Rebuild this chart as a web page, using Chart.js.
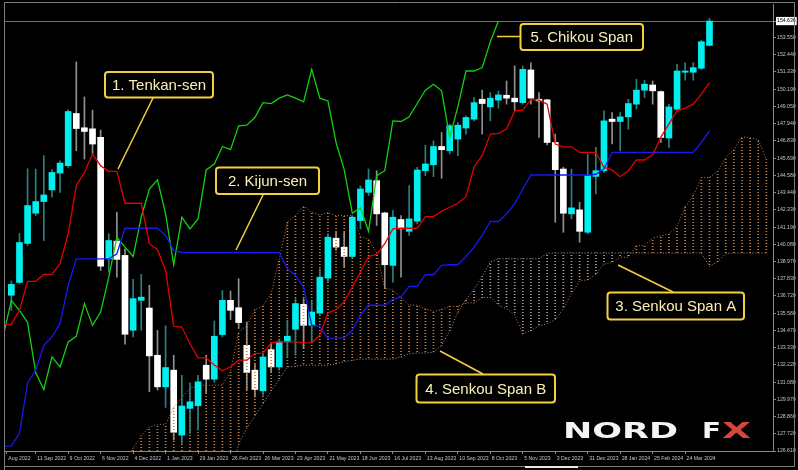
<!DOCTYPE html>
<html><head><meta charset="utf-8">
<script src="https://cdn.jsdelivr.net/npm/chart.js@4.4.1/dist/chart.umd.min.js"></script>
<style>html,body{margin:0;padding:0;background:#000;overflow:hidden}#wrap{width:798px;height:470px}</style>
</head><body><div id="wrap"><canvas id="c" width="798" height="470"></canvas></div>
<script>
// USDJPY weekly. Week index k: 0 = 14 Aug 2022, 1 = 21 Aug 2022, ...
const xTickWeeks = [0.45, 4, 8, 12, 16, 20, 24, 28, 32, 36, 40, 44, 48, 52, 56, 60, 64, 68, 72, 76, 80, 84];
const xTickLabels = ['Aug 2022','11 Sep 2022','9 Oct 2022','6 Nov 2022','4 Dec 2022','1 Jan 2023','29 Jan 2023','26 Feb 2023','26 Mar 2023','23 Apr 2023','21 May 2023','18 Jun 2023','16 Jul 2023','13 Aug 2023','10 Sep 2023','8 Oct 2023','5 Nov 2023','3 Dec 2023','31 Dec 2023','28 Jan 2024','25 Feb 2024','24 Mar 2024'];
const yTickValues = [154.636,153.550,152.440,151.330,150.190,149.050,147.940,146.830,145.690,144.580,143.440,142.330,141.190,140.080,138.970,137.830,136.720,135.580,134.470,133.330,132.220,131.080,129.970,128.860,127.720,126.610];

const firstCandleWeek = 1;
const opens = [136.76,137.6,140.14,142.11,142.87,143.63,144.73,145.21,148.61,147.68,
147.61,147.05,139.14,140.29,139.36,134.48,136.43,135.93,132.85,130.79,
131.88,127.65,129.39,129.56,132.2,131.29,134.2,136.43,135.95,133.5,
131.88,130.53,133.22,132.09,133.72,134.54,136.17,134.8,135.6,137.88,
140.48,139.9,139.29,141.63,143.47,144.23,142.13,138.71,141.7,140.93,
141.59,144.88,145.27,146.46,146.18,146.94,147.66,148.24,149.54,149.04,
149.48,149.8,149.61,149.32,151.45,149.54,149.5,146.72,144.99,142.07,
142.33,140.87,144.51,144.88,148.24,148.09,148.39,149.22,150.13,150.47,
150.04,147.01,148.89,151.3,151.3,151.56,153.05];
const highs = [137.69,140.79,145.01,144.99,145.86,144.95,145.53,148.85,151.97,149.69,
148.83,147.53,140.77,142.17,139.79,137.8,138.12,137.41,134.48,134.77,
132.85,131.55,131.05,131.55,132.85,135.08,137.08,137.04,137.84,135.02,
132.3,132.96,133.61,133.87,135.13,136.54,136.54,136.4,138.49,140.77,
140.92,140.87,141.96,143.9,144.99,144.88,142.17,142.28,141.95,143.91,
145.1,146.55,146.83,147.37,147.92,148.02,148.46,149.65,150.13,149.97,
150.08,150.73,151.71,151.71,151.92,149.97,149.54,147.27,145.1,144.99,
142.82,145.97,146.4,148.78,148.67,148.67,149.54,150.85,150.78,150.73,
150.08,149.22,151.82,151.92,151.92,153.38,154.81];
const lows = [135.78,137.5,140.0,141.96,140.33,143.15,143.47,145.1,146.18,145.64,
145.97,138.38,138.27,137.94,133.57,134.04,134.48,130.47,130.58,129.45,
127.33,127.11,127.76,127.98,130.36,131.08,134.04,135.18,134.59,130.58,
130.14,130.25,131.77,131.88,132.74,132.85,133.29,133.7,135.46,137.62,
139.68,138.6,139.2,141.09,143.26,141.31,137.19,137.62,137.94,140.66,
141.42,144.56,144.49,144.38,145.97,145.86,147.27,148.13,147.27,148.13,
148.96,149.22,148.78,149.22,149.22,147.05,146.57,141.52,140.87,141.74,
140.22,140.77,143.37,144.77,146.62,146.18,147.59,148.9,149.65,149.22,
146.72,146.4,148.78,150.78,150.78,151.49,153.01];
const closes = [137.47,140.2,142.61,142.87,143.3,144.77,145.38,148.74,147.63,147.44,
146.62,138.66,140.33,139.1,134.22,136.54,136.64,132.81,130.79,132.05,
127.83,129.54,129.82,131.12,131.29,134.09,136.43,135.78,134.98,131.73,
130.62,132.74,132.09,133.72,134.09,136.22,134.8,135.67,137.94,140.55,
139.9,139.29,141.85,143.69,144.28,142.07,138.75,141.85,141.09,141.74,
144.93,145.32,146.46,146.25,147.81,147.85,148.35,149.32,149.26,149.61,
149.82,149.61,149.37,151.49,149.61,149.43,146.72,144.95,142.11,142.46,
140.93,144.56,144.88,148.13,148.09,148.39,149.26,150.13,150.52,150.09,
147.05,149.04,151.38,151.38,151.6,153.29,154.636];

const firstLineWeek = 0;
const tenkan = [134.87,
134.87,135.78,137.67,137.67,138.12,138.12,138.82,140.77,143.91,144.77,
145.97,145.21,144.84,144.84,142.76,142.76,142.76,140.12,139.73,138.38,
134.74,134.69,133.62,132.68,132.68,132.21,131.84,132.1,132.53,132.53,
132.97,132.99,133.66,133.72,133.72,133.72,133.68,133.66,134.16,135.6,
135.83,136.32,137.3,138.27,139.29,139.42,140.12,141.09,141.13,141.13,
141.13,141.89,141.89,142.24,142.5,142.76,143.19,145.14,145.86,147.27,
147.31,147.6,148.78,148.83,149.55,149.48,149.22,146.62,146.44,146.44,
146.07,146.07,146.07,145.1,144.93,144.49,144.88,145.58,145.58,145.92,
147.05,147.92,148.78,148.96,149.22,149.87,150.62];
const kijun = [126.9,
126.94,127.76,131.05,131.88,133.5,134.04,134.91,137.4,139.14,139.14,
139.14,139.14,139.14,139.47,141.13,141.13,141.13,141.13,141.13,140.66,
139.68,139.55,139.55,139.55,139.55,139.55,139.55,139.55,139.55,139.55,
139.55,139.55,139.55,139.55,138.49,138.06,137.3,134.81,134.74,133.94,
133.99,133.99,134.48,135.46,136.11,136.11,136.11,136.5,136.65,137.34,
137.34,138.1,138.1,138.71,138.75,138.75,139.29,139.9,140.66,141.57,
141.57,142.07,142.72,143.69,144.6,144.6,144.6,144.6,144.6,144.6,
144.6,144.6,144.65,145.0,146.07,146.07,146.07,146.07,146.07,146.07,
146.07,146.07,146.07,146.07,146.07,146.72,147.48];
const chikou = [134.09,136.43,135.78,134.98,131.73,130.62,132.74,132.09,133.72,134.09,
136.22,134.8,135.67,137.94,140.55,139.9,139.29,141.85,143.69,144.28,
142.07,138.75,141.85,141.09,141.74,144.93,145.32,146.46,146.25,147.81,
147.85,148.35,149.32,149.26,149.61,149.82,149.61,149.37,151.49,149.61,
149.43,146.72,144.95,142.11,142.46,140.93,144.56,144.88,148.13,148.09,
148.39,149.26,150.13,150.52,150.09,147.05,149.04,151.38,151.38,151.6,
153.29,154.636];

const firstSpanWeek = 14;
const spanA = [125.3,126.1,126.8,127.59,128.17,128.35,128.35,
129.47,130.12,130.69,130.87,130.9,130.9,130.91,131.77,134.36,134.78,
135.81,136.08,136.87,139.09,141.53,141.96,142.56,142.18,141.99,142.16,
141.95,141.95,141.95,140.63,140.43,139.52,137.21,137.12,136.59,136.12,
136.12,135.88,135.70,135.83,136.04,136.04,136.26,136.27,136.61,136.64,
136.11,135.89,135.49,134.24,134.45,134.77,134.91,135.16,135.89,136.87,
137.7,137.77,138.12,138.8,138.89,139.24,139.24,140.0,140.0,140.48,
140.63,140.76,141.24,142.52,143.26,144.42,144.44,144.84,145.75,146.26,
147.08,147.04,146.91,145.61];
const spanB = [120.5,120.8,121.2,121.5,121.8,122.0,122.3,
122.6,122.9,123.1,123.3,123.6,123.8,124.05,124.9,127.07,128.11,
128.89,129.67,130.51,131.29,132.1,132.14,132.2,132.2,132.2,132.2,
132.3,132.43,132.53,132.6,132.6,132.6,132.6,132.6,132.75,132.95,
133.0,133.0,133.05,133.5,134.44,135.66,136.48,137.15,137.99,138.92,
139.14,139.14,139.14,139.14,139.14,139.14,139.5,139.52,139.52,139.52,
139.52,139.52,139.52,139.52,139.52,139.52,139.52,139.52,139.52,139.52,
139.52,139.52,139.52,139.52,139.52,139.52,138.64,138.95,139.47,139.52,
139.52,139.52,139.52,139.52];

const currentPrice = closes[closes.length - 1];

// ---- build library datasets from the arrays ----
const bullBody=[], bearBody=[], bullWick=[], bearWick=[];
closes.forEach((c,i)=>{
  const o=opens[i], x=firstCandleWeek+i;
  const wick={x, y:[lows[i],highs[i]]}, body={x, y:[o,c]};
  if(c>=o){bullBody.push(body);bullWick.push(wick);} else {bearBody.push(body);bearWick.push(wick);}
});
const hatchUp=[], hatchDn=[];
spanA.forEach((a,i)=>{
  const b=spanB[i], x=firstSpanWeek+i;
  if(a>=b) hatchUp.push({x,y:[b,a]}); else hatchDn.push({x,y:[a,b]});
});
const toPts=(arr,start)=>arr.map((v,i)=>({x:start+i,y:v}));

function dots(color){
  const c=document.createElement('canvas'); c.width=1; c.height=3;
  const g=c.getContext('2d'); g.fillStyle=color; g.fillRect(0,0,1,1);
  return g.createPattern(c,'repeat');
}

const barBase={type:'bar',grouped:false,borderWidth:0,minBarLength:1.2};
const lineBase={type:'line',pointRadius:0,tension:0,fill:false};

const decor={
  id:'decor',
  beforeDraw(chart){const c=chart.ctx;c.save();c.fillStyle='#000';c.fillRect(0,0,chart.width,chart.height);c.restore();},
  beforeDatasetsDraw(chart){
    const {ctx,chartArea:a,scales:{y}}=chart;
    const py=Math.round(y.getPixelForValue(currentPrice))+0.5;
    ctx.save();ctx.strokeStyle='#6b727c';ctx.lineWidth=1;
    ctx.beginPath();ctx.moveTo(a.left,py);ctx.lineTo(a.right,py);ctx.stroke();ctx.restore();
  },
  afterDraw(chart){
    const ctx=chart.ctx;
    ctx.save();
    // window frame
    ctx.strokeStyle='#7d7d7d';ctx.lineWidth=1;
    ctx.beginPath();
    ctx.moveTo(4.5,2.5);ctx.lineTo(794.5,2.5);
    ctx.moveTo(4.5,2.5);ctx.lineTo(4.5,470);
    ctx.moveTo(794.5,2.5);ctx.lineTo(794.5,467);
    ctx.moveTo(4.5,466.5);ctx.lineTo(794.5,466.5);
    ctx.stroke();
    ctx.fillStyle='#e8e8e8';ctx.fillRect(525,466,53,2);
    // annotation pointers
    ctx.strokeStyle='#f2d23c';ctx.lineWidth=1.5;
    const ptr=[[153,98,118,169],[263,195,236,250],[673,292,618,265],[483,374,440,351],[497,36.5,520,36.5]];
    ptr.forEach(p=>{ctx.beginPath();ctx.moveTo(p[0],p[1]);ctx.lineTo(p[2],p[3]);ctx.stroke();});
    // annotation boxes
    const boxes=[[105,72,213,97.5,'1. Tenkan-sen'],[216,167.5,319,194,'2. Kijun-sen'],[607.5,292.5,744,319.5,'3. Senkou Span A'],[416.5,374.5,555,402.5,'4. Senkou Span B'],[520.5,24,643,50,'5. Chikou Span']];
    boxes.forEach(b=>{
      const [x1,y1,x2,y2,t]=b;
      ctx.beginPath();ctx.roundRect(x1,y1,x2-x1,y2-y1,3);
      ctx.fillStyle='#000';ctx.fill();
      ctx.lineWidth=2;ctx.strokeStyle='#f2d23c';ctx.stroke();
      ctx.fillStyle='#fbefb6';ctx.font='15px "Liberation Sans", Arial, sans-serif';
      ctx.textAlign='center';ctx.textBaseline='middle';
      ctx.fillText(t,(x1+x2)/2,(y1+y2)/2+1);
    });
    // logo
    ctx.font='bold 22px "DejaVu Sans", sans-serif';
    ctx.textAlign='left';ctx.textBaseline='alphabetic';
    const fit=(txt,x,w,fill)=>{const m=ctx.measureText(txt).width;ctx.save();ctx.translate(x,438);ctx.scale(w/m,0.97);ctx.fillStyle=fill;ctx.fillText(txt,0,0);ctx.restore();};
    fit('NORD',563,115,'#f4f4f4');
    fit('F',702,19,'#f4f4f4');
    const gr=ctx.createLinearGradient(0,422,0,438);
    gr.addColorStop(0,'#d8453c');gr.addColorStop(0.5,'#d8453c');gr.addColorStop(0.5,'#6cbf7e');gr.addColorStop(1,'#6cbf7e');
    fit('X',722,29,gr);
    ctx.restore();
  }
};

new Chart(document.getElementById('c'),{
  type:'bar',
  data:{datasets:[
    {...lineBase,label:'Tenkan-sen',data:toPts(tenkan,firstLineWeek),borderColor:'#e40000',borderWidth:1.3,order:1},
    {...lineBase,label:'Kijun-sen',data:toPts(kijun,firstLineWeek),borderColor:'#1818f0',borderWidth:1.3,order:2},
    {...lineBase,label:'Chikou Span',data:toPts(chikou,firstLineWeek),borderColor:'#12d012',borderWidth:1.3,order:3},
    {...barBase,label:'bull',data:bullBody,backgroundColor:'#00f0f0',barThickness:6,order:5},
    {...barBase,label:'bullWick',data:bullWick,backgroundColor:'#2b8080',barThickness:1,order:6},
    {...lineBase,label:'Senkou Span A',data:toPts(spanA,firstSpanWeek),borderColor:'#c07c40',borderWidth:1,borderDash:[1,2],order:7},
    {...lineBase,label:'Senkou Span B',data:toPts(spanB,firstSpanWeek),borderColor:'#a89ca8',borderWidth:1,borderDash:[1,2],order:7},
    {...barBase,label:'cloudUp',data:hatchUp,backgroundColor:dots('#cc8040'),barThickness:1,minBarLength:0,order:8},
    {...barBase,label:'cloudDn',data:hatchDn,backgroundColor:dots('#b2a6b2'),barThickness:1,minBarLength:0,order:8},
    {...barBase,label:'bear',data:bearBody,backgroundColor:'#ffffff',barThickness:6,order:9},
    {...barBase,label:'bearWick',data:bearWick,backgroundColor:'#909090',barThickness:1,order:10}
  ]},
  options:{
    responsive:false,animation:false,events:[],
    layout:{padding:{left:5,top:3,right:0,bottom:0}},
    plugins:{legend:{display:false},tooltip:{enabled:false}},
    scales:{
      x:{type:'linear',min:0.218,max:94.823,offset:false,
        afterBuildTicks:s=>{s.ticks=xTickWeeks.map(v=>({value:v}));},
        afterFit:s=>{s.height=19;},
        grid:{drawOnChartArea:false,tickLength:3,color:'#8a8a8a',offset:false},
        border:{display:true,color:'#8a8a8a'},
        ticks:{autoSkip:false,maxRotation:0,minRotation:0,align:'start',padding:1,color:'#c4c4c4',
          font:{family:'"Liberation Sans", Arial, sans-serif',size:5.2},
          callback:(v,i)=>' '+xTickLabels[i]}
      },
      y:{type:'linear',position:'right',min:126.61,max:155.74,
        afterBuildTicks:s=>{s.ticks=yTickValues.map(v=>({value:v}));},
        afterFit:s=>{s.width=25;},
        grid:{drawOnChartArea:false,tickLength:3,color:'#8a8a8a'},
        border:{display:true,color:'#8a8a8a'},
        ticks:{autoSkip:false,padding:1,
          color:c=>(c.tick&&c.tick.value===currentPrice)?'#000':'#c4c4c4',
          showLabelBackdrop:c=>!!(c.tick&&c.tick.value===currentPrice),
          backdropColor:'#ffffff',backdropPadding:1,
          font:{family:'"Liberation Sans", Arial, sans-serif',size:5.2},
          callback:v=>Number(v).toFixed(3)}
      }
    }
  },
  plugins:[decor]
});
</script></body></html>
